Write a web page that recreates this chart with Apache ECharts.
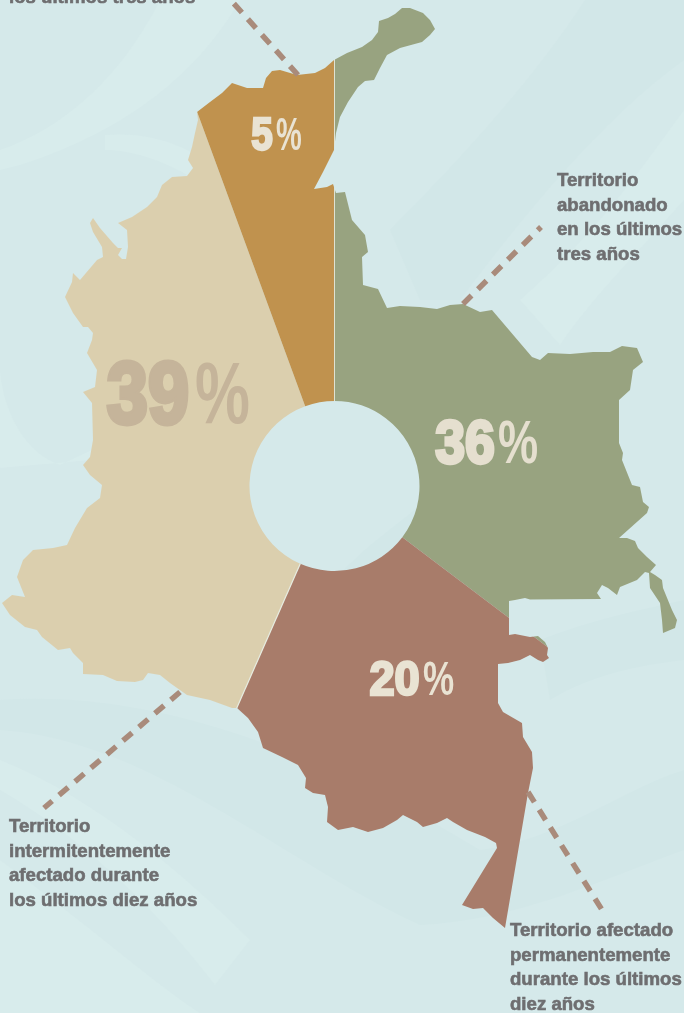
<!DOCTYPE html>
<html><head><meta charset="utf-8">
<style>html,body{margin:0;padding:0;background:#d5e9ea}#c{width:684px;height:1013px}</style>
<script src="https://cdn.jsdelivr.net/npm/echarts@6/dist/echarts.min.js"></script>
</head><body><div id="c"></div>
<script>
const categories = ['Territorio abandonado en los últimos tres años','Territorio afectado permanentemente durante los últimos diez años','Territorio intermitentemente afectado durante los últimos diez años','Territorio ... los últimos tres años'];
// the percentages as printed
const values = [36, 20, 39, 5];
// the wedge sizes as drawn in the picture, which differ slightly from the printed figures
const wedgeShares = [35.3, 21.3, 37.8, 5.6];
const sliceColors = ['#98a380', '#a87c6a', '#dbcfae', '#c0924e'];
const valueColors = ['#e5dfcf', '#e9e3d3', '#c5b49a', '#e9e3d3'];
// digitsX, percentX, y, font size, digit scale, percent scale
const valueLabelBoxes = [[465,518,446,61,0.88,0.74],[394.5,438.5,682,48,0.94,0.73],[148,222.5,399,87,0.85,0.71],[262,289,137,46,0.84,0.63]];
const captions = [
 {x:557,y:181,lines:['Territorio','abandonado','en los últimos','tres años']},
 {x:510,y:931,lines:['Territorio afectado','permanentemente','durante los últimos','diez años']},
 {x:9,y:827,lines:['Territorio','intermitentemente','afectado durante','los últimos diez años']},
 {x:9,y:-2,lines:['los últimos tres años']}
];
const leaders = [[463,304,541,227],[528,792,604,913],[180,692,44,808],[298,75,228,-3]];
// silhouette of the country, clockwise
const outline = [[334,60],[347,53],[362,47],[372,40],[378,32],[379,21],[388,18],[395,14],[402,8],[410,8],[423,13],[430,20],[435,29],[430,35],[422,42],[400,48],[387,55],[380,68],[374,80],[365,81],[358,87],[348,102],[340,117],[336,133],[334,150],[323,172],[314,189],[327,187],[333,184],[336,193],[345,192],[352,220],[365,235],[368,252],[362,257],[363,285],[378,289],[387,308],[400,306],[420,307],[437,309],[450,305],[463,304],[480,312],[492,310],[532,357],[540,360],[548,353],[570,354],[593,352],[610,352],[622,346],[637,348],[643,362],[633,370],[630,390],[619,400],[619,443],[623,453],[622,460],[632,485],[640,487],[643,502],[649,507],[647,513],[619,538],[627,538],[635,541],[638,548],[647,557],[656,565],[650,572],[655,575],[662,580],[663,588],[672,610],[677,620],[675,628],[663,633],[662,620],[660,603],[650,588],[649,573],[645,572],[637,580],[620,587],[617,595],[608,588],[602,585],[597,593],[601,599],[530,599.5],[525,598],[515,600],[509,601],[509,635],[515,634],[530,637],[538,636],[545,642],[548,648],[547,655],[549,658],[543,662],[538,660],[530,655],[520,660],[508,663],[498,664],[498,703],[503,712],[522,723],[523,737],[532,752],[533,768],[528,793],[505,928],[493,918],[483,908],[473,909],[462,905],[497,848],[496,843],[485,837],[467,830],[453,822],[447,818],[437,823],[423,827],[417,822],[403,815],[397,820],[383,828],[368,832],[353,827],[338,830],[327,822],[328,807],[325,795],[313,793],[305,788],[306,778],[298,765],[282,757],[263,748],[258,732],[248,718],[237,708],[232,708],[210,700],[187,695],[170,683],[160,675],[148,673],[143,680],[135,682],[117,681],[103,675],[83,674],[83,663],[73,653],[70,648],[58,650],[42,637],[37,630],[25,627],[10,615],[2,603],[12,595],[25,597],[17,577],[23,560],[33,550],[53,548],[67,545],[75,528],[87,508],[100,498],[102,485],[90,475],[83,465],[90,457],[93,440],[92,403],[83,392],[95,387],[97,370],[87,353],[92,340],[93,333],[88,327],[83,327],[73,313],[65,297],[72,282],[73,273],[80,280],[97,260],[103,257],[102,247],[93,232],[90,223],[93,218],[100,228],[113,243],[118,248],[122,248],[118,255],[122,259],[126,259],[128,247],[127,230],[118,223],[132,217],[147,207],[157,197],[162,185],[172,177],[187,176],[193,168],[188,160],[192,147],[195,133],[198,120],[197,112],[210,102],[222,93],[232,83],[247,88],[263,88],[266,78],[272,71],[280,70],[297,75],[315,73],[325,68]];
// faint background swooshes
const swooshes = [
 {f:'#d8ecec',d:'M0 150 C60 130 120 80 160 0 L240 0 C200 70 130 130 20 165 L0 170 Z'},
 {f:'#d8ecec',d:'M105 135 C170 130 210 160 240 190 L210 190 C170 160 130 150 105 150 Z'},
 {f:'#d2e7e8',d:'M390 230 C470 150 540 70 585 0 L684 0 L684 60 C600 120 520 220 460 300 L420 300 Z'},
 {f:'#d8ecec',d:'M520 300 C600 230 640 170 684 110 L684 200 C640 250 590 300 560 345 Z'},
 {f:'#d2e7e8',d:'M335 580 C370 540 400 525 425 500 L425 580 Z'},
 {f:'#d8ecec',d:'M0 372 C5 420 30 455 60 465 L92 450 L92 460 L0 468 Z'},
 {f:'#d2e7e8',d:'M0 700 C140 690 300 740 480 850 C560 840 620 790 684 770 L684 850 C600 880 520 920 420 925 C280 860 150 740 0 730 Z'},
 {f:'#d8ecec',d:'M0 760 C100 800 190 880 250 940 L215 985 C150 900 70 830 0 790 Z'},
 {f:'#d2e7e8',d:'M540 640 C590 620 640 610 684 600 L684 660 C640 665 590 675 550 700 Z'},
 {f:'#d8ecec',d:'M0 860 C120 950 150 980 200 1013 L0 1013 Z'}
];

const tex = document.createElement('canvas'); tex.width = 684; tex.height = 1013;
const g = tex.getContext('2d');
g.fillStyle = '#d5e9ea'; g.fillRect(0,0,684,1013);
swooshes.forEach(s => { g.fillStyle = s.f; g.fill(new Path2D(s.d)); });

const ring = outline.slice().reverse();
const maskPoints = [[334,0],[684,0],[684,1013],[0,1013],[0,0],[334,0],[334,60]].concat(ring.slice(0,-1), [[334,60],[334,0]]);
const cx = 334.5, cy = 486, total = wedgeShares.reduce((a,b)=>a+b,0);
const endAngle = i => wedgeShares.slice(0,i+1).reduce((a,b)=>a+b,0)/total*2*Math.PI;
const rim = i => ({x1:cx+85*Math.sin(endAngle(i)),y1:cy-85*Math.cos(endAngle(i)),x2:cx+900*Math.sin(endAngle(i)),y2:cy-900*Math.cos(endAngle(i))});

const graphic = [
 {type:'rect',z:0,silent:true,shape:{x:0,y:0,width:684,height:1013},style:{fill:{image:tex,repeat:'no-repeat'}}},
 {type:'line',z:8,silent:true,shape:rim(3),style:{stroke:'#dfe3d3',lineWidth:1}},
 {type:'line',z:8,silent:true,shape:rim(1),style:{stroke:'#e6ebe0',lineWidth:1.2}},
 {type:'polygon',z:10,silent:true,shape:{points:maskPoints},style:{fill:{image:tex,repeat:'no-repeat'}}}
];
leaders.forEach(l => graphic.push({type:'line',z:11,silent:true,shape:{x1:l[0],y1:l[1],x2:l[2],y2:l[3]},style:{stroke:'#a98b7b',lineWidth:5.5,lineDash:[12,9]}}));
values.forEach((v,i) => {
  const b = valueLabelBoxes[i];
  const font = 'bold '+b[3]+'px "Liberation Sans"';
  graphic.push({type:'text',z:12,silent:true,x:b[0],y:b[2],scaleX:b[4],style:{text:String(v),x:0,y:0,align:'center',verticalAlign:'middle',font:font,fill:valueColors[i],stroke:valueColors[i],lineWidth:b[3]/18}});
  graphic.push({type:'text',z:12,silent:true,x:b[1],y:b[2],scaleX:b[5],style:{text:'%',x:0,y:0,align:'center',verticalAlign:'middle',font:font,fill:valueColors[i]}});
});
captions.forEach(c => c.lines.forEach((t,j) => {
  graphic.push({type:'text',z:12,silent:true,x:c.x,y:c.y+j*24.6,scaleX:0.98,style:{text:t,x:0,y:0,align:'left',verticalAlign:'middle',font:'bold 19px "Liberation Sans"',fill:'#6e6e70',stroke:'#6e6e70',lineWidth:0.6}});
}));

const chart = echarts.init(document.getElementById('c'), null, {renderer:'canvas', width:684, height:1013});
chart.setOption({
  animation:false,
  backgroundColor:'transparent',
  series:[{type:'pie',z:5,center:[cx,cy],radius:[85,900],startAngle:90,clockwise:true,silent:true,
    label:{show:false},labelLine:{show:false},emphasis:{disabled:true},
    data:categories.map((n,i)=>({name:n,value:wedgeShares[i],itemStyle:{color:sliceColors[i]}}))}],
  graphic:graphic
});
</script></body></html>
